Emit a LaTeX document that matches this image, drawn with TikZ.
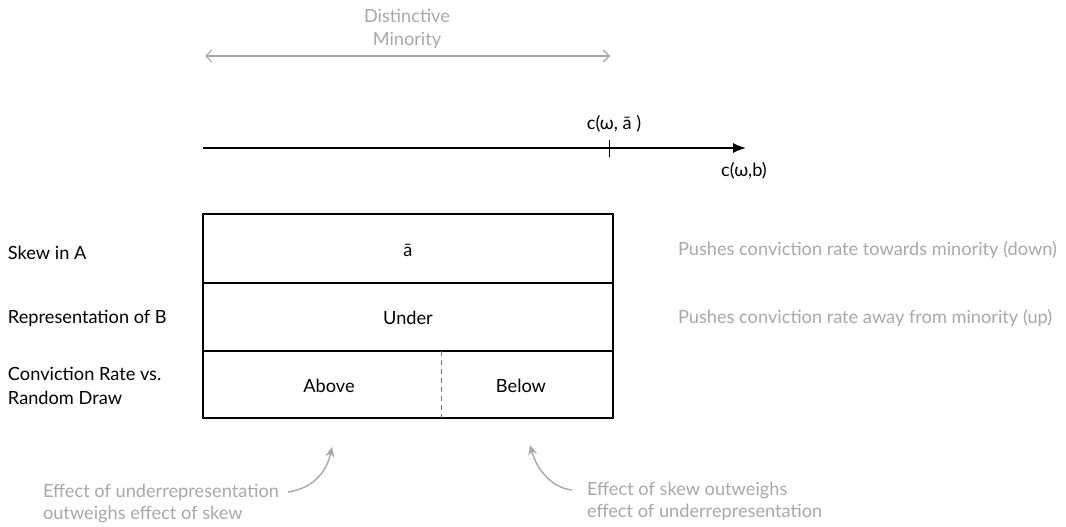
\documentclass[tikz,border=0pt]{standalone}
\usepackage{fontspec}
\setmainfont{Lato}
\usetikzlibrary{arrows.meta}
\definecolor{notegray}{HTML}{A8A8A8}
\definecolor{divgray}{HTML}{707070}
\begin{document}
\begin{tikzpicture}[x=1pt,y=-1pt,
  font=\fontsize{18.2}{24}\selectfont,
  every node/.style={inner sep=0pt, outer sep=0pt},
  note/.style={text=notegray, align=left, anchor=west},
  lab/.style={text=black, align=left, anchor=west},
  cell/.style={draw=black, line width=1.5pt, minimum width=410pt},
  notearrow/.style={draw=notegray, line width=1.4pt, -{Stealth[length=10pt,width=9pt]}},
]
\useasboundingbox (0,0) rectangle (1066,527);

% top gray double arrow
\coordinate (dl) at (205,56);
\coordinate (dr) at (610,56);
\draw[notegray, line width=1.2pt, {Straight Barb[length=6pt,width=12pt]}-{Straight Barb[length=6pt,width=12pt]}] (dl) -- (dr);
\node[text=notegray, align=center, font=\fontsize{18.2}{23}\selectfont] (dm) at (407,28.5) {Distinctive\\Minority};

% axis
\coordinate (ax0) at (203,148);
\coordinate (ax1) at (746,148);
\draw[line width=1.5pt, -{Latex[length=13pt,width=10pt]}] (ax0) -- (ax1);
\coordinate (tkt) at (609,140);
\coordinate (tkb) at (609,157);
\draw[line width=0.8pt] (tkt) -- (tkb);
\node (ca) at (614,124) {c(ω, ā\ )};
\node (cb) at (744,171) {c(ω,b)};

% table
\node[cell, minimum height=69pt] (rowA) at (408,248.5) {};
\node[cell, minimum height=68pt] (rowB) at (408,317) {};
\node[cell, minimum height=67pt] (rowC) at (408,384.5) {};
\coordinate (dvt) at (441,351);
\coordinate (dvb) at (441,418);
\draw[divgray, line width=1pt, dash pattern=on 5pt off 4pt] (dvt) -- (dvb);
\node (ta) at (408,250) {ā};
\node (tu) at (408,318) {Under};
\node (tab) at (329,386) {Above};
\node (tbe) at (521,386) {Below};

% left labels
\node[lab] (la) at (8,253) {Skew in A};
\node[lab] (lb) at (8,318) {Representation of B};
\node[lab, font=\fontsize{18.2}{24}\selectfont] (lc) at (8,386) {Conviction Rate vs.\\Random Draw};

% right notes
\node[note] (na) at (678,250) {Pushes conviction rate towards minority (down)};
\node[note] (nb) at (678,318) {Pushes conviction rate away from minority (up)};

% bottom notes
\node[note, font=\fontsize{18.2}{22}\selectfont] (bl) at (43,503) {Effect of underrepresentation\\outweighs effect of skew};
\node[note, font=\fontsize{18.2}{22}\selectfont] (br) at (587,501) {Effect of skew outweighs\\effect of underrepresentation};
\coordinate (bls) at (288,492);
\coordinate (blt) at (332,447);
\draw[notearrow] (bls) .. controls (315,488) and (327,470) .. (blt);
\coordinate (brs) at (572,490);
\coordinate (brt) at (530,445);
\draw[notearrow] (brs) .. controls (552,488) and (537,470) .. (brt);
\end{tikzpicture}
\end{document}
